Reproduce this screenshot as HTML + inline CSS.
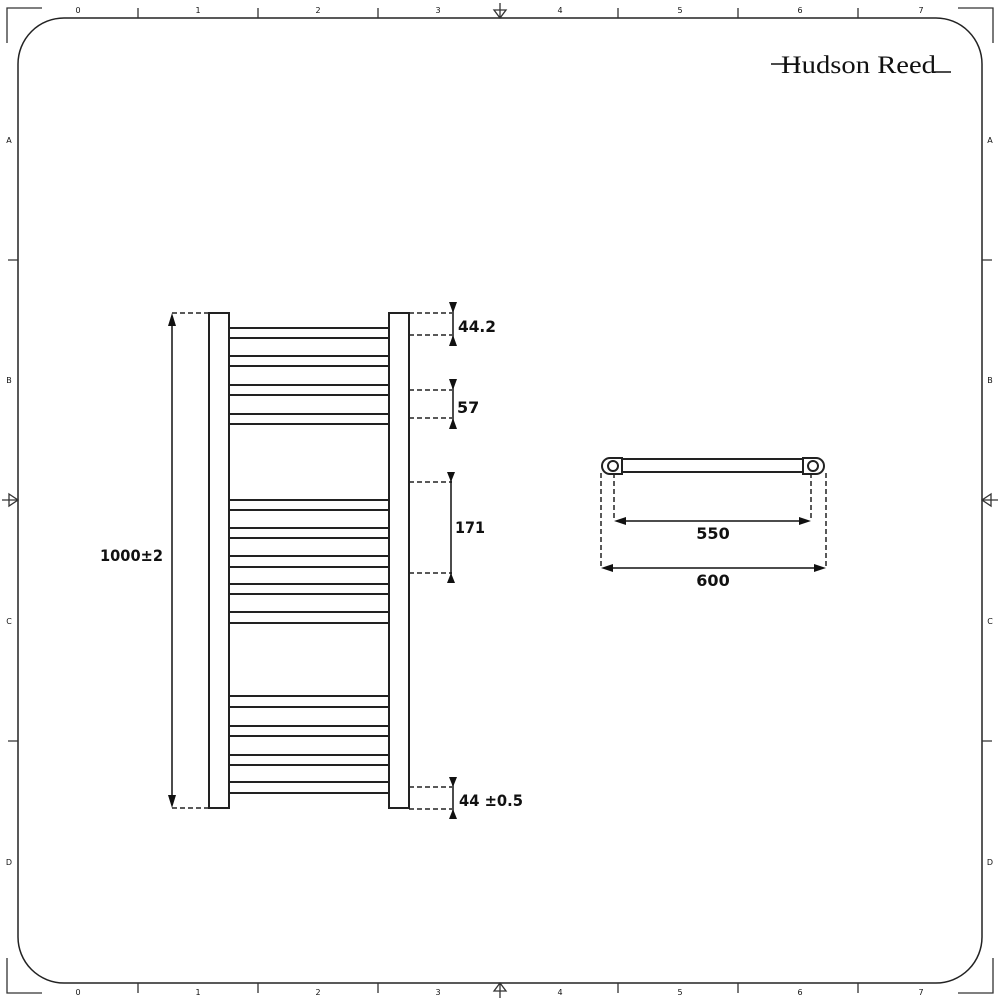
<!DOCTYPE html>
<html><head><meta charset="utf-8"><style>
html,body{margin:0;padding:0;background:#fff;}
svg{display:block;}
text{font-family:"DejaVu Sans","Liberation Sans",sans-serif;fill:#111;}
</style></head><body>
<svg width="1000" height="1000" viewBox="0 0 1000 1000" xmlns="http://www.w3.org/2000/svg">
<rect width="1000" height="1000" fill="#fff"/>
<rect x="18" y="18" width="964" height="965" rx="46" ry="46" fill="none" stroke="#222" stroke-width="1.5"/>
<g stroke="#333" stroke-width="1.3" fill="none">
<polyline points="7,43 7,8 42,8"/>
<polyline points="958,8 993,8 993,43"/>
<polyline points="7,958 7,993 42,993"/>
<polyline points="958,993 993,993 993,958"/>
<path d="M138 8V18 M258 8V18 M378 8V18 M618 8V18 M738 8V18 M858 8V18"/>
<path d="M138 983V993 M258 983V993 M378 983V993 M618 983V993 M738 983V993 M858 983V993"/>
<path d="M8 260H18 M8 741H18 M982 260H992 M982 741H992"/>
<path d="M500 3V18 M494 10L500 18L506 10Z"/>
<path d="M500 983V998 M494 991L500 983L506 991Z"/>
<path d="M2 500H18 M9 494L18 500L9 506Z"/>
<path d="M982 500H998 M991 494L982 500L991 506Z"/>
</g>
<g font-size="8" text-anchor="middle">
<text x="78" y="13">0</text><text x="198" y="13">1</text><text x="318" y="13">2</text><text x="438" y="13">3</text><text x="560" y="13">4</text><text x="680" y="13">5</text><text x="800" y="13">6</text><text x="921" y="13">7</text>
<text x="78" y="995">0</text><text x="198" y="995">1</text><text x="318" y="995">2</text><text x="438" y="995">3</text><text x="560" y="995">4</text><text x="680" y="995">5</text><text x="800" y="995">6</text><text x="921" y="995">7</text>
<text x="9" y="143">A</text><text x="9" y="383">B</text><text x="9" y="624">C</text><text x="9" y="865">D</text>
<text x="990" y="143">A</text><text x="990" y="383">B</text><text x="990" y="624">C</text><text x="990" y="865">D</text>
</g>
<text x="781" y="73" font-size="25" textLength="155" lengthAdjust="spacingAndGlyphs" style="font-family:'Liberation Serif',serif">Hudson Reed</text>
<path d="M771 64H800 M934 72H951" stroke="#111" stroke-width="1.5"/>
<g stroke="#222" stroke-width="2" fill="#fff">
<rect x="209" y="313" width="20" height="495"/>
<rect x="389" y="313" width="20" height="495"/>
</g>
<g stroke="#222" stroke-width="2">
<path d="M229 328H389 M229 338H389 M229 356H389 M229 366H389 M229 385H389 M229 395H389 M229 414H389 M229 424H389"/>
<path d="M229 500H389 M229 510H389 M229 528H389 M229 538H389 M229 556H389 M229 567H389 M229 584H389 M229 594H389 M229 612H389 M229 623H389"/>
<path d="M229 696H389 M229 707H389 M229 726H389 M229 736H389 M229 755H389 M229 765H389 M229 782H389 M229 793H389"/>
</g>
<g stroke="#222" stroke-width="1.5" stroke-dasharray="5,3" fill="none">
<path d="M172 313H209 M172 808H209"/>
<path d="M409 313H452 M409 335H452 M409 390H452 M409 418H452 M409 482H452 M409 573H452 M409 787H452 M409 809H452"/>
<path d="M601 473V568 M826 473V568 M614 473V521 M811 473V521"/>
</g>
<g stroke="#111" stroke-width="1.5">
<path d="M172 316V805"/>
<path d="M453 302V346 M453 379V429 M451 472V583 M453 777V819"/>
<path d="M618 521H807 M605 568H822"/>
</g>
<g fill="#111">
<path d="M168 326L172 313L176 326Z M168 795L172 808L176 795Z"/>
<path d="M449 302L457 302L453 313Z M449 346L457 346L453 335Z"/>
<path d="M449 379L457 379L453 390Z M449 429L457 429L453 418Z"/>
<path d="M447 472L455 472L451 482Z M447 583L455 583L451 573Z"/>
<path d="M449 777L457 777L453 787Z M449 819L457 819L453 809Z"/>
<path d="M614 521L626 517L626 525Z M811 521L799 517L799 525Z"/>
<path d="M601 568L613 564L613 572Z M826 568L814 564L814 572Z"/>
</g>
<g font-size="16" font-weight="bold" style="font-family:'DejaVu Sans',sans-serif">
<text x="458" y="332" textLength="38" lengthAdjust="spacingAndGlyphs">44.2</text>
<text x="457" y="413">57</text>
<text x="455" y="533" textLength="30" lengthAdjust="spacingAndGlyphs">171</text>
<text x="459" y="806" textLength="64" lengthAdjust="spacingAndGlyphs">44 ±0.5</text>
<text x="100" y="561" textLength="63" lengthAdjust="spacingAndGlyphs">1000±2</text>
<text x="713" y="539" text-anchor="middle">550</text>
<text x="713" y="586" text-anchor="middle">600</text>
</g>
<g stroke="#222" stroke-width="2" fill="#fff">
<rect x="622" y="459" width="181" height="13"/>
<path d="M622 458H610A8 8 0 0 0 610 474H622Z"/>
<path d="M803 458H816A8 8 0 0 1 816 474H803Z"/>
<circle cx="613" cy="466" r="5"/>
<circle cx="813" cy="466" r="5"/>
</g>
</svg>
</body></html>
